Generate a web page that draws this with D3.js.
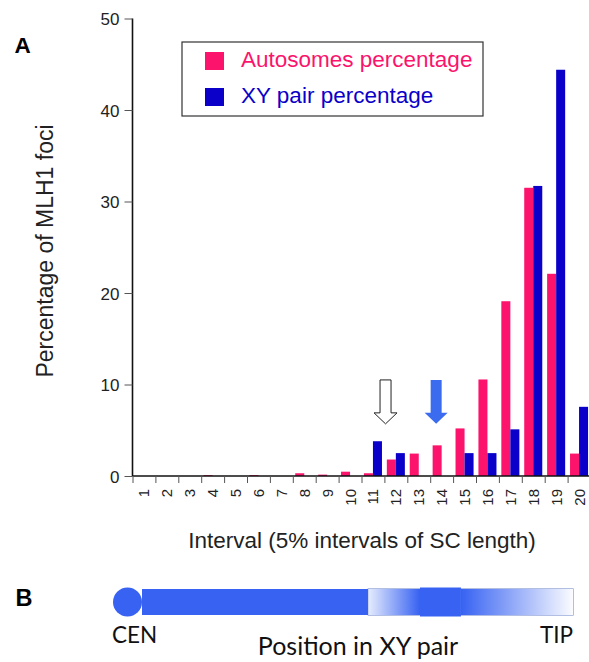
<!DOCTYPE html>
<html>
<head>
<meta charset="utf-8">
<script src="https://cdn.jsdelivr.net/npm/d3@7"></script>
<style>
  html, body { margin: 0; padding: 0; background: #fff; }
  svg { display: block; }
</style>
</head>
<body>
<svg id="chart" width="589" height="662"></svg>
<script>
// ---- data ----
const intervals = ["1","2","3","4","5","6","7","8","9","10","11","12","13","14","15","16","17","18","19","20"];
const autosomes = [0,0,0,0.1,0,0.1,0,0.3,0.15,0.47,0.3,1.8,2.45,3.35,5.2,10.55,19.1,31.5,22.1,2.45];
const xyPair    = [0,0,0,0,0,0,0,0,0,0,3.8,2.5,0,0,2.5,2.5,5.1,31.7,44.4,7.56];
const seriesNames = ["Autosomes percentage", "XY pair percentage"];
const yTicks = [0,10,20,30,40,50];
// arrows: position along interval axis (0..20), top and tip in % units
const arrowPos = [11.05, 13.26];
const arrowTop = 10.5, arrowNeck = 6.9, arrowTip = 5.7;
// panel B segments (fraction of SC length)
const solidEnd = 0.525, fadeInEnd = 0.645, focusEnd = 0.74;

const pink = "#fb136c", blue = "#0a00c9", bBlue = "#3762f2";

const svg = d3.select("#chart");
const font = "'Liberation Sans', Arial, Helvetica, sans-serif";

const x0 = 132.5, x1 = 590.5, yBase = 476, yTop = 18.5;
const x = d3.scaleBand().domain(intervals).range([x0, x1]).padding(0);
const xs = d3.scaleBand().domain(["a","x"]).range([0, x.bandwidth()]).paddingInner(0).paddingOuter(0.27);
const xl = d3.scaleLinear().domain([0, 20]).range([x0, x1]);
const y = d3.scaleLinear().domain([0, 50]).range([yBase, yTop]);

const data = intervals.map((k, i) => ({k, a: autosomes[i], x: xyPair[i]}));

// bars
const g = svg.append("g");
g.selectAll(".ba").data(data).join("rect")
  .attr("x", d => x(d.k) + xs("a")).attr("width", xs.bandwidth())
  .attr("y", d => y(d.a)).attr("height", d => yBase - y(d.a)).attr("fill", pink);
g.selectAll(".bx").data(data).join("rect")
  .attr("x", d => x(d.k) + xs("x")).attr("width", xs.bandwidth())
  .attr("y", d => y(d.x)).attr("height", d => yBase - y(d.x)).attr("fill", blue);

// y axis
const ya = svg.append("g").attr("transform", `translate(${x0},0)`)
  .call(d3.axisLeft(y).tickValues(yTicks).tickSize(8).tickPadding(5));
ya.select(".domain").attr("stroke", "#111").attr("stroke-width", 1.6).attr("d", `M0,${yTop}V${yBase}`);
ya.selectAll(".tick line").attr("stroke", "#555").attr("stroke-width", 1);
ya.selectAll(".tick text").attr("font-family", font).attr("font-size", 17).attr("fill", "#222").attr("dy", "0.36em");

// x axis
const xa = svg.append("g").attr("transform", `translate(0,${yBase})`)
  .call(d3.axisBottom(xl).tickValues(d3.range(0, 21)).tickSize(7).tickFormat(""));
xa.select(".domain").attr("stroke", "#111").attr("stroke-width", 1.6).attr("d", `M${x0},0H${x1}`);
xa.selectAll(".tick line").attr("stroke", "#555").attr("stroke-width", 1);
svg.append("g").selectAll("text").data(intervals).join("text")
  .attr("transform", d => `translate(${x(d) + x.bandwidth()/2 + 5.5},${yBase + 13}) rotate(-90)`)
  .attr("text-anchor", "end").attr("font-family", font).attr("font-size", 15).attr("fill", "#222")
  .text(d => d);

// axis titles
svg.append("text").attr("transform", `translate(53,251) rotate(-90)`)
  .attr("text-anchor", "middle").attr("font-family", font).attr("font-size", 23).attr("fill", "#222")
  .text("Percentage of MLH1 foci");
svg.append("text").attr("x", 362).attr("y", 548)
  .attr("text-anchor", "middle").attr("font-family", font).attr("font-size", 22.5).attr("fill", "#222")
  .text("Interval (5% intervals of SC length)");

// legend
const lg = svg.append("g");
lg.append("rect").attr("x", 182).attr("y", 42).attr("width", 301).attr("height", 74)
  .attr("fill", "#fff").attr("stroke", "#333").attr("stroke-width", 1.2);
[pink, blue].forEach((c, i) => {
  lg.append("rect").attr("x", 205).attr("y", 52 + i*36).attr("width", 19).attr("height", 18).attr("fill", c);
  lg.append("text").attr("x", 241).attr("y", 67 + i*36).attr("font-family", font).attr("font-size", 22.5)
    .attr("fill", c).text(seriesNames[i]);
});

// arrows
const arrowFill = ["#fff", "#3b6cf0"];
const arrowStroke = ["#222", "none"];
arrowPos.forEach((p, i) => {
  const cx = xl(p), sw = 5.5, hw = 11.5;
  const path = `M${cx-sw},${y(arrowTop)}H${cx+sw}V${y(arrowNeck)}H${cx+hw}L${cx},${y(arrowTip)}L${cx-hw},${y(arrowNeck)}H${cx-sw}Z`;
  svg.append("path").attr("d", path).attr("fill", arrowFill[i]).attr("stroke", arrowStroke[i]).attr("stroke-width", 1);
});

// panel labels
svg.append("text").attr("x", 14.5).attr("y", 53).attr("font-family", font).attr("font-weight", "bold")
  .attr("font-size", 22.5).attr("fill", "#000").text("A");
svg.append("text").attr("x", 15.5).attr("y", 606).attr("font-family", font).attr("font-weight", "bold")
  .attr("font-size", 23.5).attr("fill", "#000").text("B");

// panel B
const pb = d3.scaleLinear().domain([0, 1]).range([142, 573]);
const defs = svg.append("defs");
const g1 = defs.append("linearGradient").attr("id", "fadeIn");
g1.append("stop").attr("offset", "0%").attr("stop-color", "#e6ecfd");
g1.append("stop").attr("offset", "100%").attr("stop-color", bBlue);
const g2 = defs.append("linearGradient").attr("id", "fadeOut");
g2.append("stop").attr("offset", "0%").attr("stop-color", bBlue);
g2.append("stop").attr("offset", "100%").attr("stop-color", "#fbfcff");
const bTop = 589, bH = 26;
svg.append("rect").attr("x", pb(solidEnd)).attr("y", bTop).attr("width", pb(1) - pb(solidEnd)).attr("height", bH)
  .attr("fill", "none").attr("stroke", "#7f93d0").attr("stroke-width", 1.2);
svg.append("rect").attr("x", pb(0)).attr("y", bTop).attr("width", pb(solidEnd) - pb(0)).attr("height", bH).attr("fill", bBlue);
svg.append("rect").attr("x", pb(solidEnd)).attr("y", bTop).attr("width", pb(fadeInEnd) - pb(solidEnd)).attr("height", bH).attr("fill", "url(#fadeIn)");
svg.append("rect").attr("x", pb(fadeInEnd)).attr("y", bTop - 1.5).attr("width", pb(focusEnd) - pb(fadeInEnd)).attr("height", bH + 3).attr("fill", bBlue);
svg.append("rect").attr("x", pb(focusEnd)).attr("y", bTop).attr("width", pb(1) - pb(focusEnd)).attr("height", bH).attr("fill", "url(#fadeOut)");
svg.append("circle").attr("cx", 127.5).attr("cy", 602).attr("r", 14.5).attr("fill", bBlue);

const bFont = "Lato, 'Open Sans', sans-serif";
svg.append("text").attr("x", 112).attr("y", 643).attr("font-family", bFont).attr("font-size", 22.5).attr("fill", "#111").text("CEN");
svg.append("text").attr("x", 573).attr("y", 643).attr("text-anchor", "end").attr("font-family", bFont).attr("font-size", 22.5).attr("fill", "#111").text("TIP");
svg.append("text").attr("x", 358).attr("y", 655).attr("text-anchor", "middle").attr("font-family", bFont).attr("font-size", 25).attr("fill", "#111").text("Position in XY pair");
</script>
</body>
</html>
